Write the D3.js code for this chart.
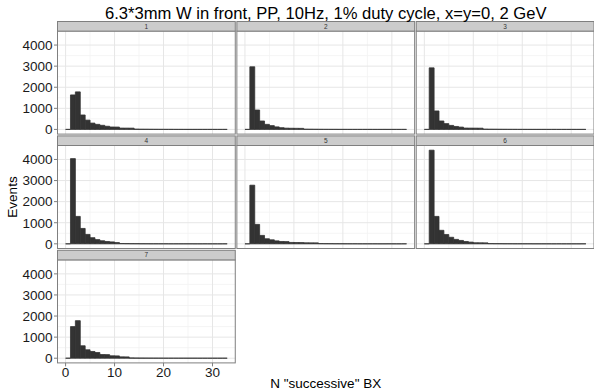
<!DOCTYPE html>
<html><head><meta charset="utf-8">
<script src="https://cdn.jsdelivr.net/npm/d3@7"></script>
<style>body{margin:0;background:#fff}svg{display:block}</style>
</head><body><svg id="c" width="594" height="391"></svg>
<script>
const title = "6.3*3mm W in front, PP, 10Hz, 1% duty cycle, x=y=0, 2 GeV";
const xLabel = 'N "successive" BX';
const yLabel = "Events";
const panels = ["1","2","3","4","5","6","7"];
const binStarts = [0,1,2,3,4,5,6,7,8,9,10,11,12,13,14,15,16,17,18,19,20,21,22,23,24,25,26,27,28,29,30,31,32];
const binWidth = 1;
const counts1 = [0,1635,1780,685,440,300,240,195,150,115,112,63,62,60,14,10,8,6,5,4,3,3,2,2,1,1,1,1,1,1,0,0,1];
const counts2 = [0,2970,920,400,240,180,120,82,60,55,52,50,12,9,7,5,4,3,3,2,2,1,1,1,1,1,0,0,1,0,0,0,1];
const counts3 = [0,2920,875,400,275,190,140,110,65,62,60,58,14,10,8,6,5,4,3,2,2,1,1,1,1,0,1,0,0,0,0,0,1];
const counts4 = [0,4040,1300,730,445,290,200,145,110,90,60,15,12,9,7,5,4,3,3,2,2,1,1,1,1,1,0,0,1,0,0,0,1];
const counts5 = [0,2780,920,400,240,190,140,110,105,65,62,60,48,46,45,12,9,7,5,4,3,2,2,1,1,1,1,0,0,1,0,0,1];
const counts6 = [0,4440,1300,640,440,310,210,160,110,80,50,48,45,12,9,7,5,4,3,3,2,2,1,1,1,1,0,1,0,0,0,0,1];
const counts7 = [0,1500,1780,590,400,320,270,175,170,115,110,65,62,14,11,8,6,5,4,3,2,2,1,1,1,1,1,0,0,0,0,0,1];
const allCounts = [counts1,counts2,counts3,counts4,counts5,counts6,counts7];
const xTicks = [0,10,20,30];
const xMinor = [5,15,25];
const yTicks = [0,1000,2000,3000,4000];
const yMinor = [500,1500,2500,3500];

const svg = d3.select("#c");
const L = 57.5, R = 594, gap = 1.6;
const pw = (R - L - 2*gap)/3;
const stripTop0 = 21.5, stripH = 9.6, ph = 103, rowPitch = 114.4;
const font = "'Liberation Sans', Arial, sans-serif";

const xMax = binStarts[binStarts.length-1] + binWidth;
const xMin = binStarts[0];
const xPad = (xMax - xMin)*0.05;
const yMaxData = d3.max(allCounts, a => d3.max(a));
const x = d3.scaleLinear().domain([xMin - xPad, xMax + xPad]).range([0, pw]);
const y = d3.scaleLinear().domain([-0.05*yMaxData, 1.05*yMaxData]).range([ph, 0]);

panels.forEach((name, i) => {
  const col = i % 3, row = Math.floor(i/3);
  const px = L + col*(pw+gap);
  const sy = stripTop0 + row*rowPitch;
  const py = sy + stripH;
  const g = svg.append("g").attr("transform", `translate(${px},${py})`);
  g.append("rect").attr("width", pw).attr("height", ph).attr("fill", "#fff");
  g.selectAll(".mx").data(xMinor).enter().append("line")
    .attr("x1", d=>x(d)).attr("x2", d=>x(d)).attr("y1",0).attr("y2",ph)
    .attr("stroke","#f3f3f3").attr("stroke-width",0.8);
  g.selectAll(".my").data(yMinor).enter().append("line")
    .attr("y1", d=>y(d)).attr("y2", d=>y(d)).attr("x1",0).attr("x2",pw)
    .attr("stroke","#f3f3f3").attr("stroke-width",0.8);
  g.selectAll(".gx").data(xTicks).enter().append("line")
    .attr("x1", d=>x(d)).attr("x2", d=>x(d)).attr("y1",0).attr("y2",ph)
    .attr("stroke","#e6e6e6").attr("stroke-width",1);
  g.selectAll(".gy").data(yTicks).enter().append("line")
    .attr("y1", d=>y(d)).attr("y2", d=>y(d)).attr("x1",0).attr("x2",pw)
    .attr("stroke","#e6e6e6").attr("stroke-width",1);
  // bars as paths so zero-height bins still show their outline
  const data = allCounts[i].map((c, k) => ({x0: binStarts[k], c}));
  g.selectAll(".bar").data(data).enter().append("path")
    .attr("d", d => {
      const x0 = x(d.x0), x1 = x(d.x0 + binWidth), y0 = y(0), y1 = y(d.c);
      return `M${x0},${y0}H${x1}V${y1}H${x0}Z`;
    })
    .attr("fill", "#333333").attr("stroke", "#333333").attr("stroke-width", 0.8);
  g.append("rect").attr("width", pw).attr("height", ph)
    .attr("fill","none").attr("stroke","#7f7f7f").attr("stroke-width",1);
  svg.append("rect").attr("x", px).attr("y", sy).attr("width", pw).attr("height", stripH)
    .attr("fill","#cccccc").attr("stroke","#7f7f7f").attr("stroke-width",1);
  svg.append("text").attr("x", px+pw/2).attr("y", sy+stripH/2).attr("dy","0.35em")
    .attr("text-anchor","middle").attr("font-family",font).attr("font-size",6.5)
    .attr("fill","#333").text(name);
  if (col === 0) {
    const ya = svg.append("g").attr("transform", `translate(${px},${py})`);
    ya.selectAll("line").data(yTicks).enter().append("line")
      .attr("x1",-3.5).attr("x2",0).attr("y1",d=>y(d)).attr("y2",d=>y(d))
      .attr("stroke","#7f7f7f").attr("stroke-width",1);
    ya.selectAll("text").data(yTicks).enter().append("text")
      .attr("x",-5).attr("y",d=>y(d)).attr("dy","0.36em").attr("text-anchor","end")
      .attr("font-family",font).attr("font-size",13.5).attr("fill","#1a1a1a").text(d=>d);
  }
  if (i === panels.length-1) {
    const xa = svg.append("g").attr("transform", `translate(${px},${py+ph})`);
    xa.selectAll("line").data(xTicks).enter().append("line")
      .attr("x1",d=>x(d)).attr("x2",d=>x(d)).attr("y1",0).attr("y2",3.5)
      .attr("stroke","#7f7f7f").attr("stroke-width",1);
    xa.selectAll("text").data(xTicks).enter().append("text")
      .attr("x",d=>x(d)).attr("y",14.5).attr("text-anchor","middle")
      .attr("font-family",font).attr("font-size",13.5).attr("fill","#1a1a1a").text(d=>d);
  }
});

const cx = (L+R)/2;
svg.append("text").attr("x", cx).attr("y", 18.5).attr("text-anchor","middle")
  .attr("font-family",font).attr("font-size",16.6).attr("fill","#000").text(title);
svg.append("text").attr("x", cx).attr("y", 388).attr("text-anchor","middle")
  .attr("font-family",font).attr("font-size",13.5).attr("fill","#000").text(xLabel);
svg.append("text").attr("transform","translate(16.5,197) rotate(-90)").attr("text-anchor","middle")
  .attr("font-family",font).attr("font-size",13.5).attr("fill","#000").text(yLabel);
</script></body></html>
